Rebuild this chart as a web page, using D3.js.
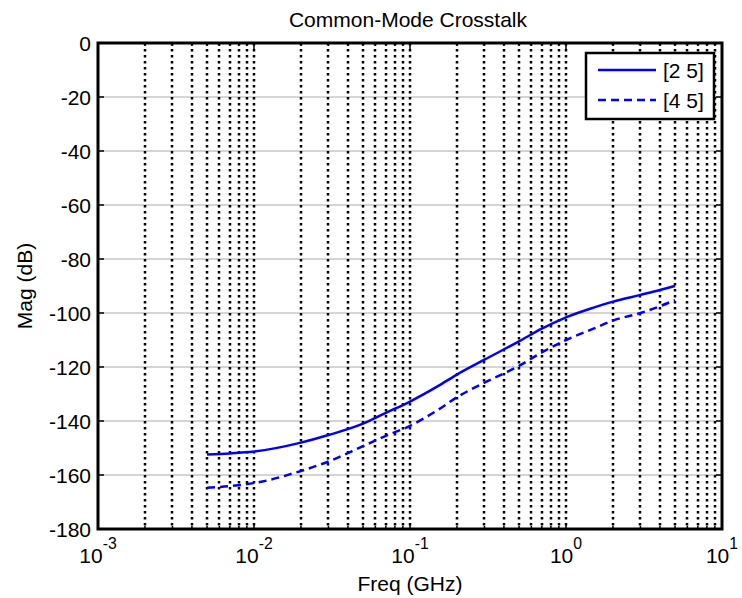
<!DOCTYPE html>
<html><head><meta charset="utf-8">
<script src="https://cdn.jsdelivr.net/npm/d3@7"></script>
<style>body{margin:0;background:#fff;} svg{display:block;font-family:"Liberation Sans",Arial,sans-serif;}</style>
</head><body><svg id="c" width="742" height="598"></svg>
<script>
const freq = [0.005, 0.007, 0.01, 0.02, 0.03, 0.05, 0.07, 0.1, 0.15, 0.2, 0.3, 0.5, 0.7, 1, 1.5, 2, 3, 4, 5];
const s25 = [-152.4, -152.0, -151.3, -148.0, -145.2, -141.0, -137.0, -132.8, -127.2, -122.8, -117.3, -110.5, -105.8, -101.6, -98.0, -95.8, -93.3, -91.5, -90.0];
const s45 = [-164.7, -164.1, -163.0, -158.5, -155.0, -149.3, -145.5, -141.8, -136.0, -131.2, -125.8, -119.6, -114.6, -110.0, -105.8, -102.8, -100.0, -97.5, -95.2];
const seriesNames = ["[2 5]", "[4 5]"];
const yTicks = [0, -20, -40, -60, -80, -100, -120, -140, -160, -180];
const xDecades = [-3, -2, -1, 0, 1];
const title = "Common-Mode Crosstalk", xLabel = "Freq (GHz)", yLabel = "Mag (dB)";

const svg = d3.select("#c");
const L = 98, R = 722, T = 43, B = 529;
const x = d3.scaleLog().domain([1e-3, 10]).range([L, R]);
const y = d3.scaleLinear().domain([-180, 0]).range([B, T]);
const fs = 21;

const minors = [];
for (let d = -3; d < 1; d++) for (let k = 1; k <= 9; k++) minors.push(k * Math.pow(10, d));
minors.push(10);

svg.append("g").selectAll("line").data(yTicks.filter(v => v > -180 && v < 0)).join("line")
  .attr("x1", L).attr("x2", R).attr("y1", d => y(d)).attr("y2", d => y(d))
  .attr("stroke", "#aaa").attr("stroke-width", 1);
svg.append("g").selectAll("line").data(minors.filter(v => v > 1e-3 && v < 10)).join("line")
  .attr("x1", d => Math.round(x(d))).attr("x2", d => Math.round(x(d))).attr("y1", T).attr("y2", B)
  .attr("stroke", "#000").attr("stroke-width", 2.5).attr("stroke-dasharray", "2.5,3.5");

const tk = svg.append("g").attr("stroke", "#000").attr("stroke-width", 1.5);
yTicks.forEach(v => {
  tk.append("line").attr("x1", L).attr("x2", L + 6).attr("y1", y(v)).attr("y2", y(v));
  tk.append("line").attr("x1", R).attr("x2", R - 6).attr("y1", y(v)).attr("y2", y(v));
});
minors.forEach(v => {
  const len = [1e-3, 1e-2, 1e-1, 1, 10].includes(v) ? 6 : 3;
  tk.append("line").attr("x1", x(v)).attr("x2", x(v)).attr("y1", B).attr("y2", B - len);
  tk.append("line").attr("x1", x(v)).attr("x2", x(v)).attr("y1", T).attr("y2", T + len);
});

const line = d3.line().x(d => x(d[0])).y(d => y(d[1])).curve(d3.curveMonotoneX);
svg.append("path").datum(freq.map((f, i) => [f, s25[i]])).attr("d", line)
  .attr("fill", "none").attr("stroke", "#0000ff").attr("stroke-width", 2.5);
svg.append("path").datum(freq.map((f, i) => [f, s45[i]])).attr("d", line)
  .attr("fill", "none").attr("stroke", "#0000ff").attr("stroke-width", 2.5).attr("stroke-dasharray", "8,5");

svg.append("rect").attr("x", L).attr("y", T).attr("width", R - L).attr("height", B - T)
  .attr("fill", "none").attr("stroke", "#000").attr("stroke-width", 3);

svg.append("g").selectAll("text").data(yTicks).join("text")
  .attr("x", L - 7).attr("y", d => y(d)).attr("dy", "0.36em").attr("text-anchor", "end")
  .attr("font-size", fs).text(d => d);

xDecades.forEach(e => {
  const t = svg.append("text").attr("x", x(Math.pow(10, e))).attr("y", B + 34)
    .attr("text-anchor", "middle").attr("font-size", fs);
  t.append("tspan").text("10");
  t.append("tspan").attr("dy", -14).attr("font-size", fs * 0.75).text(e);
});

svg.append("text").attr("x", 408).attr("y", 27).attr("text-anchor", "middle").attr("font-size", fs).text(title);
svg.append("text").attr("x", 410).attr("y", 591).attr("text-anchor", "middle").attr("font-size", fs).text(xLabel);
svg.append("text").attr("transform", `translate(32,${(T + B) / 2}) rotate(-90)`).attr("text-anchor", "middle").attr("font-size", fs).text(yLabel);

const lg = svg.append("g");
lg.append("rect").attr("x", 586).attr("y", 53).attr("width", 128).attr("height", 66)
  .attr("fill", "#fff").attr("stroke", "#000").attr("stroke-width", 2.5);
seriesNames.forEach((n, i) => {
  const ly = 70 + i * 30;
  lg.append("line").attr("x1", 598).attr("x2", 656).attr("y1", ly).attr("y2", ly)
    .attr("stroke", "#0000ff").attr("stroke-width", 2.5).attr("stroke-dasharray", i ? "8,5" : null);
  lg.append("text").attr("x", 663).attr("y", ly).attr("dy", "0.36em").attr("font-size", fs).text(n);
});
</script></body></html>
